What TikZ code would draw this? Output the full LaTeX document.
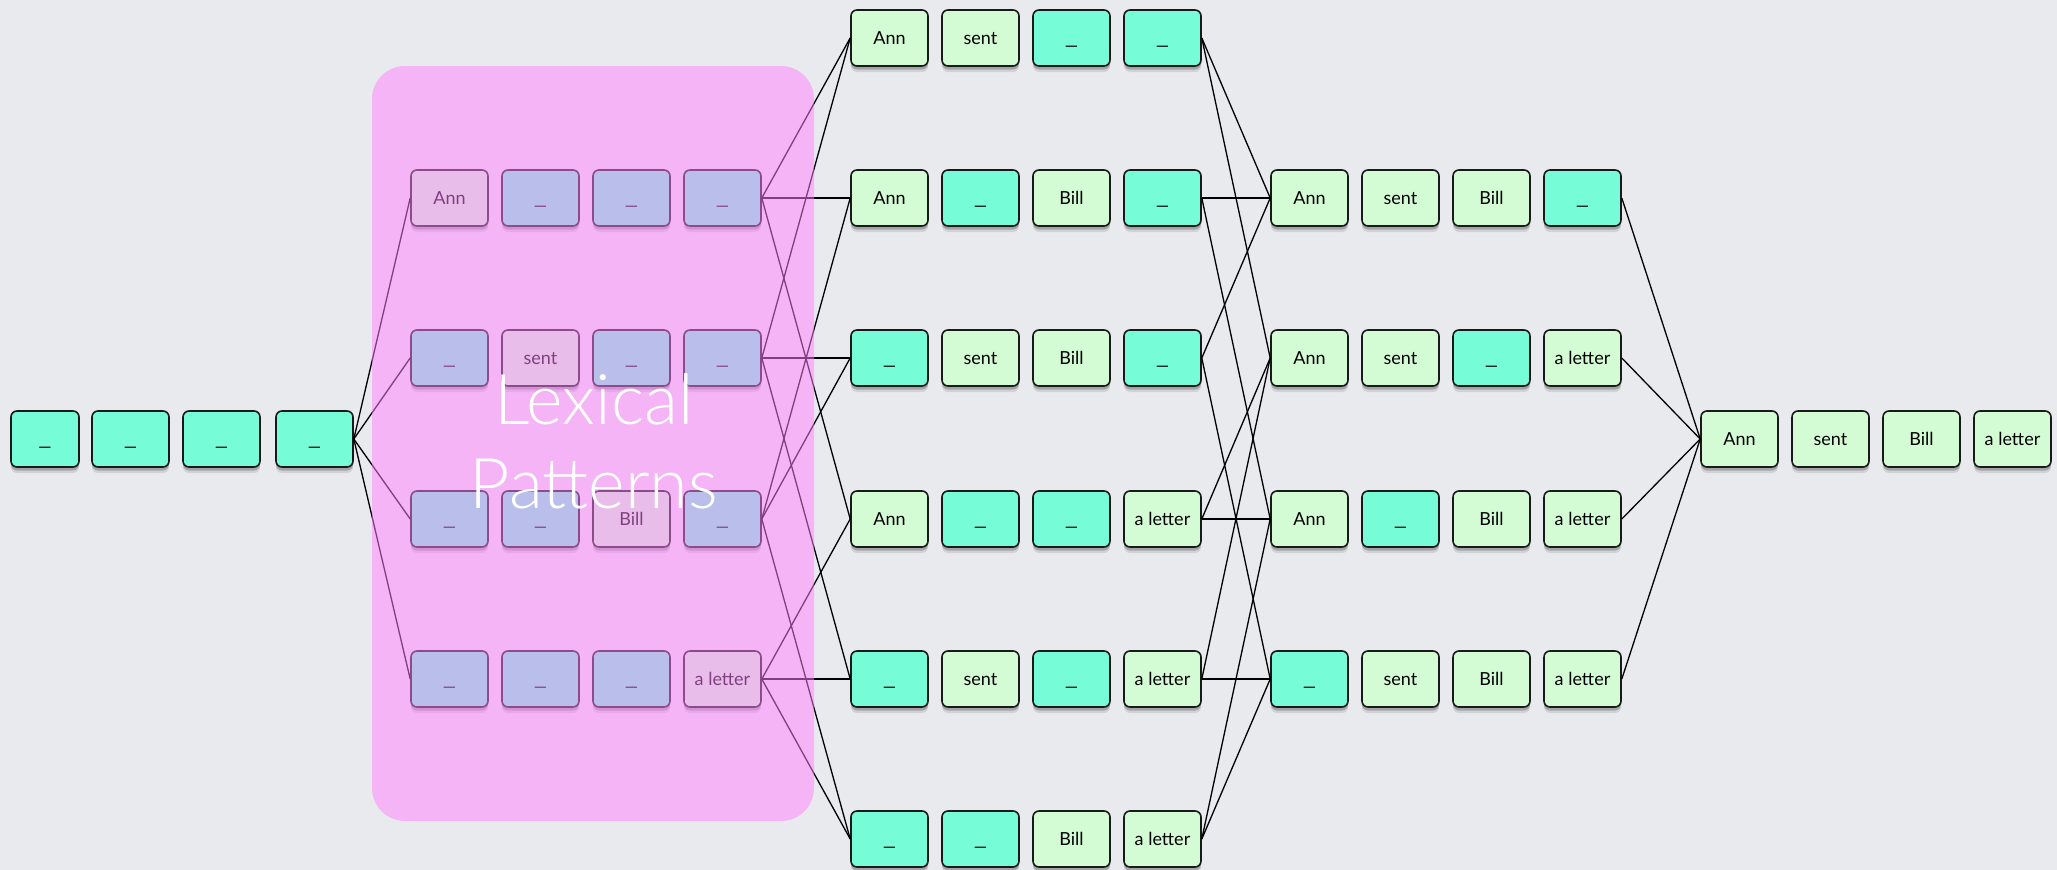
\documentclass[tikz,border=0pt]{standalone}
\usepackage{fontspec}
\usepackage{graphicx}
\setmainfont{Lato}
\IfFontExistsTF{Lato Light}{\newfontfamily\thinfont{Lato Light}}{%
  \IfFontExistsTF{Lato-Light.ttf}{\newfontfamily\thinfont{Lato-Light.ttf}}{\newfontfamily\thinfont{Lato}}}
\usetikzlibrary{shadows}
\definecolor{bgc}{RGB}{233,234,238}
\definecolor{slotc}{RGB}{118,253,215}
\definecolor{wordc}{RGB}{212,252,212}
\definecolor{pinkc}{RGB}{255,128,255}
\newcommand\gap{\scalebox{1.6}[1.1]{\_}}
\tikzset{
  box/.style={draw=black!90, line width=1.6pt, rounded corners=6pt,
    minimum width=77pt, minimum height=56pt, inner sep=0pt,
    text height=13pt, text depth=0pt, font=\fontsize{18}{18}\selectfont,
    drop shadow={shadow xshift=0pt, shadow yshift=-6pt, opacity=0.10, fill=black},
    drop shadow={shadow xshift=0pt, shadow yshift=-3.5pt, opacity=0.22, fill=black}},
  slot/.style={box, fill=slotc},
  word/.style={box, fill=wordc},
  link/.style={line width=1.3pt, draw=black},
  lexbox/.style={fill=pinkc, fill opacity=0.5, rounded corners=33pt,
    minimum width=442pt, minimum height=755pt, inner sep=0pt},
  lexlabel/.style={text=white, align=center, font=\thinfont\fontsize{70}{84}\selectfont, inner sep=0pt}
}
\newcommand\mkrow[4]{%
  \foreach [count=\i] \s/\t in {#4} {
    \node[\s] (#1-\i) at ({#2+(\i-1)*91},#3) {\t};
  }%
}
\begin{document}
\begin{tikzpicture}[x=1pt,y=-1pt]
\path[use as bounding box, fill=bgc] (0,0) rectangle (2057,870);
% column A
\node[slot, minimum width=68pt] (A-1) at (45,439) {\gap};
\node[slot] (A-2) at (130.5,439) {\gap};
\node[slot] (A-3) at (221.5,439) {\gap};
\node[slot] (A-4) at (314.5,439) {\gap};
% column B
\mkrow{B1}{449.5}{198}{word/Ann, slot/\gap, slot/\gap, slot/\gap}
\mkrow{B2}{449.5}{358}{slot/\gap, word/sent, slot/\gap, slot/\gap}
\mkrow{B3}{449.5}{519}{slot/\gap, slot/\gap, word/Bill, slot/\gap}
\mkrow{B4}{449.5}{679}{slot/\gap, slot/\gap, slot/\gap, word/a letter}
% column C
\mkrow{C1}{889.5}{38}{word/Ann, word/sent, slot/\gap, slot/\gap}
\mkrow{C2}{889.5}{198}{word/Ann, slot/\gap, word/Bill, slot/\gap}
\mkrow{C3}{889.5}{358}{slot/\gap, word/sent, word/Bill, slot/\gap}
\mkrow{C4}{889.5}{519}{word/Ann, slot/\gap, slot/\gap, word/a letter}
\mkrow{C5}{889.5}{679}{slot/\gap, word/sent, slot/\gap, word/a letter}
\mkrow{C6}{889.5}{839}{slot/\gap, slot/\gap, word/Bill, word/a letter}
% column D
\mkrow{D1}{1309.5}{198}{word/Ann, word/sent, word/Bill, slot/\gap}
\mkrow{D2}{1309.5}{358}{word/Ann, word/sent, slot/\gap, word/a letter}
\mkrow{D3}{1309.5}{519}{word/Ann, slot/\gap, word/Bill, word/a letter}
\mkrow{D4}{1309.5}{679}{slot/\gap, word/sent, word/Bill, word/a letter}
% column E
\mkrow{E}{1739.5}{439}{word/Ann, word/sent, word/Bill, word/a letter}
% connectors
\foreach \r in {B1,B2,B3,B4} \draw[link] (A-4.east) -- (\r-1.west);
\foreach \a/\b in {B1/C1,B1/C2,B1/C4,B2/C1,B2/C3,B2/C5,B3/C2,B3/C3,B3/C6,B4/C4,B4/C5,B4/C6,
  C1/D1,C1/D2,C2/D1,C2/D3,C3/D1,C3/D4,C4/D2,C4/D3,C5/D2,C5/D4,C6/D3,C6/D4,
  D1/E,D2/E,D3/E,D4/E}
  \draw[link] (\a-4.east) -- (\b-1.west);
% overlay
\node[lexbox] (lex) at (593,443.5) {};
\node[lexlabel] (lexlab) at (594,441) {Lexical\\Patterns};
\end{tikzpicture}
\end{document}
